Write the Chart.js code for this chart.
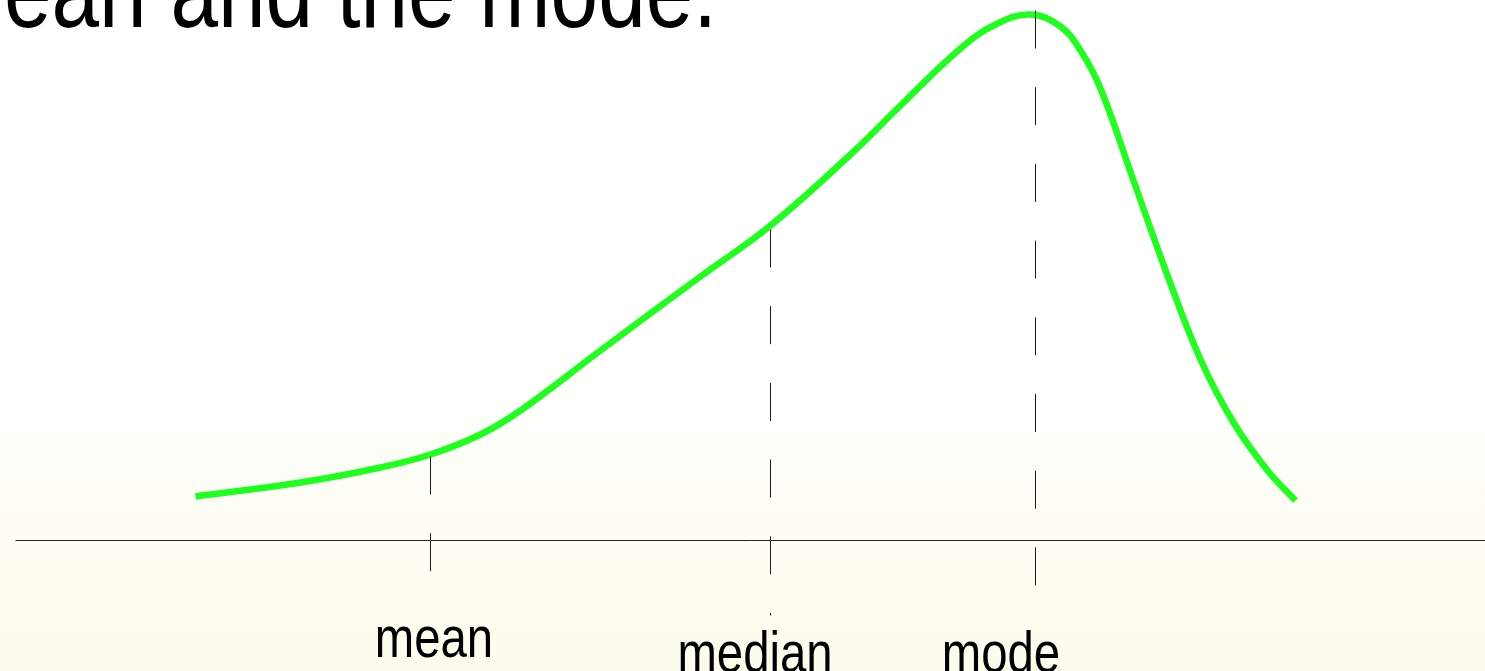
<!DOCTYPE html>
<html>
<head>
<meta charset="utf-8">
<script src="https://cdn.jsdelivr.net/npm/chart.js@4"></script>
<style>
  html, body { margin: 0; padding: 0; background: #fff; overflow: hidden; }
  #wrap { width: 1485px; height: 671px; }
</style>
</head>
<body>
<div id="wrap"><canvas id="skewChart" width="1485" height="671"></canvas></div>
<script>
// Left-skewed distribution: curve heights above the baseline
const curveX = [195, 300, 380, 430, 480, 520, 600, 700, 770, 850, 900, 960, 995, 1030, 1060, 1080, 1100, 1133, 1167, 1200, 1233, 1267, 1295];
const curveY = [44, 58, 73, 86, 106, 130, 190, 264, 315, 386, 435, 492, 516, 526, 514, 490, 452, 360, 265, 181, 118, 70, 40];

// Marker lines (top = where the dash starts, bottom = where it ends)
const markerNames = ['mean', 'median', 'mode'];
const markerX = [430, 770, 1035];
const markerTop = [84, 311, 530];
const markerBottom = [-31, -75, -45];
const labelX = [434, 755, 1001];
const labelY = [-117, -132, -132];

// Baseline axis
const axisX = [15, 1485];
const axisY = [0, 0];

const titleText = 'ean and the mode.';

const xy = (xs, ys) => xs.map((x, i) => ({ x: x, y: ys[i] }));

const markerSets = markerNames.map((name, i) => ({
  label: name,
  data: xy([markerX[i], markerX[i]], [markerTop[i], markerBottom[i]]),
  borderColor: '#1a1a1a',
  borderWidth: 1,
  borderDash: [38, 38.7],
  pointRadius: 0,
  tension: 0
}));

const decor = {
  id: 'decor',
  beforeDraw(chart) {
    const ctx = chart.ctx;
    ctx.save();
    ctx.fillStyle = '#ffffff';
    ctx.fillRect(0, 0, chart.width, chart.height);
    const g = ctx.createLinearGradient(0, 340, 0, chart.height);
    g.addColorStop(0, 'rgba(250,250,225,0)');
    g.addColorStop(0.4, 'rgba(250,250,225,0.25)');
    g.addColorStop(1, 'rgba(250,250,215,0.45)');
    ctx.fillStyle = g;
    ctx.fillRect(0, 340, chart.width, chart.height - 340);
    ctx.restore();
  },
  beforeDatasetsDraw(chart) {
    // keep the thin lines on whole pixels
    chart.ctx.save();
    chart.ctx.translate(0.5, 0.5);
  },
  afterDatasetsDraw(chart) {
    chart.ctx.restore();
  },
  afterDraw(chart) {
    const ctx = chart.ctx;
    const xs = chart.scales.x, ys = chart.scales.y;
    ctx.save();
    ctx.fillStyle = '#000';
    ctx.textBaseline = 'alphabetic';
    ctx.font = '57px "Liberation Sans", Arial, sans-serif';
    ctx.textAlign = 'center';
    markerNames.forEach((name, i) => {
      const px = xs.getPixelForValue(labelX[i]);
      const py = ys.getPixelForValue(labelY[i]);
      ctx.save();
      ctx.translate(px, py);
      ctx.scale(0.83, 1);
      ctx.fillText(name, 0, 0);
      ctx.restore();
    });
    // cut-off slide title
    ctx.font = '103px "Liberation Sans", Arial, sans-serif';
    ctx.textAlign = 'left';
    ctx.translate(4, 27);
    ctx.scale(0.83, 1);
    ctx.fillText(titleText, 0, 0);
    ctx.restore();
  }
};

const ctx = document.getElementById('skewChart').getContext('2d');
const skewChart = new Chart(ctx, {
  type: 'line',
  data: {
    datasets: [
      {
        label: 'axis',
        data: xy(axisX, axisY),
        borderColor: '#222222',
        borderWidth: 1,
        pointRadius: 0,
        tension: 0
      },
      ...markerSets,
      {
        label: 'distribution',
        data: xy(curveX, curveY),
        borderColor: '#1eff1e',
        borderWidth: 6.5,
        pointRadius: 0,
        tension: 0.4,
        borderCapStyle: 'butt'
      }
    ]
  },
  options: {
    responsive: false,
    animation: false,
    layout: { padding: 0 },
    plugins: {
      legend: { display: false },
      tooltip: { enabled: false },
      title: { display: false }
    },
    scales: {
      x: { type: 'linear', min: 0, max: 1485, display: false },
      y: { type: 'linear', min: -131, max: 540, display: false }
    }
  },
  plugins: [decor]
});
</script>
</body>
</html>
